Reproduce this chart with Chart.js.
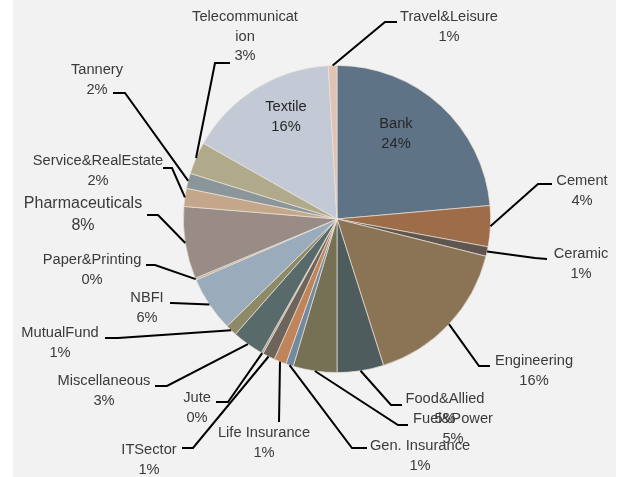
<!DOCTYPE html>
<html>
<head>
<meta charset="utf-8">
<script src="https://cdn.jsdelivr.net/npm/chart.js@4"></script>
<style>
  html, body { margin: 0; padding: 0; background: #ffffff; }
  #wrap { position: relative; width: 619px; height: 477px; }
  canvas { position: absolute; left: 0; top: 0; }
</style>
</head>
<body>
<div id="wrap"><canvas id="c" width="619" height="477"></canvas></div>
<script>
// ---- data ----
const categories = ["Bank", "Cement", "Ceramic", "Engineering", "Food&Allied", "Fuel&Power",
  "Gen. Insurance", "Life Insurance", "ITSector", "Jute", "Miscellaneous", "MutualFund",
  "NBFI", "Paper&Printing", "Pharmaceuticals", "Service&RealEstate", "Tannery",
  "Telecommunication", "Textile", "Travel&Leisure"];
const shareValues = [23.6, 4.3, 1.0, 16.2, 4.9, 4.6, 0.8, 1.3, 1.3, 0.2, 3.3, 1.2,
  5.8, 0.2, 7.6, 1.9, 1.6, 3.4, 15.9, 0.9];

// ---- styles ----
const sliceColors = ["#5f7386", "#9d6c48", "#5f5650", "#8b7355", "#4e5c5d", "#767055",
  "#7189a1", "#c0845a", "#6f6459", "#a89e8e", "#596a6b", "#8e8966",
  "#9aabbb", "#b8a99a", "#998c86", "#c4a68b", "#8a9699", "#b1a98b", "#c3cad5", "#e1c3b6"];

// label layout: [centerX, firstLineY, elbowX, elbowY, endX, endY, inside, fontSize, wrapAt]
const labelLayout = [
  [396, 124, null, null, null, null, true, 14.67, 0],
  [582, 181, 538, 184, 552, 184, false, 14.67, 0],
  [581, 254, 535, 258, 547, 259, false, 14.67, 0],
  [534, 361, 479, 366, 490, 366, false, 14.67, 0],
  [445, 399, 391, 405, 402, 405, false, 14.67, 0],
  [453, 419, 398, 425, 408, 425, false, 14.67, 0],
  [420, 446, 352, 448, 367, 448, false, 14.67, 0],
  [264, 433, 279, 422, 279, 422, false, 14.67, 0],
  [149, 450, 193, 448, 182, 448, false, 14.67, 0],
  [197, 398, 228, 402, 216, 402, false, 14.67, 0],
  [104, 381, 167, 386, 155, 386, false, 14.67, 0],
  [60, 333, 118, 338, 105, 338, false, 14.67, 0],
  [147, 298, 172, 303, 170, 303, false, 14.67, 0],
  [92, 260, 155, 265, 146, 265, false, 14.67, 0],
  [83, 204, 158, 215, 147, 215, false, 16, 0],
  [98, 161, 172, 168, 163, 168, false, 14.67, 0],
  [97, 70, 125, 93, 113, 93, false, 14.67, 0],
  [245, 17, 215, 63, 230, 63, false, 14.67, 14],
  [286, 107, null, null, null, null, true, 14.67, 0],
  [449, 17, 385, 22, 397, 22, false, 14.67, 0]
];

const total = shareValues.reduce((a, b) => a + b, 0);

const bgPlugin = {
  id: 'bg',
  beforeDraw(chart) {
    const ctx = chart.ctx;
    ctx.save();
    ctx.fillStyle = '#f2f2f2';
    ctx.fillRect(13, 0, 603, 477);
    ctx.restore();
  }
};

const labelPlugin = {
  id: 'sliceLabels',
  afterDatasetsDraw(chart) {
    const ctx = chart.ctx;
    const meta = chart.getDatasetMeta(0);
    ctx.save();
    meta.data.forEach((arc, i) => {
      const L = labelLayout[i];
      const p = arc.getProps(['x', 'y', 'startAngle', 'endAngle', 'outerRadius'], true);
      const mid = (p.startAngle + p.endAngle) / 2;
      const ax = p.x + Math.cos(mid) * p.outerRadius;
      const ay = p.y + Math.sin(mid) * p.outerRadius;
      if (!L[6]) {
        ctx.strokeStyle = '#000000';
        ctx.lineWidth = 2;
        ctx.lineJoin = 'miter';
        ctx.beginPath();
        ctx.moveTo(ax, ay);
        ctx.lineTo(L[2], L[3]);
        ctx.lineTo(L[4], L[5]);
        ctx.stroke();
      }
      const name = categories[i];
      let lines = [];
      if (L[8] > 0 && name.length > L[8]) {
        lines.push(name.slice(0, L[8]));
        lines.push(name.slice(L[8]));
      } else {
        lines.push(name);
      }
      lines.push(Math.round(shareValues[i] / total * 100) + '%');
      const fs = L[7];
      const lh = fs > 15 ? 22 : 19.7;
      ctx.font = fs + "px 'Liberation Sans', Arial, sans-serif";
      ctx.fillStyle = L[6] ? '#262626' : '#3a3a3a';
      ctx.textAlign = 'center';
      ctx.textBaseline = 'middle';
      lines.forEach((t, k) => ctx.fillText(t, L[0], L[1] + k * lh));
    });
    ctx.restore();
  }
};

new Chart(document.getElementById('c'), {
  type: 'pie',
  data: {
    labels: categories,
    datasets: [{
      data: shareValues,
      backgroundColor: sliceColors,
      borderColor: 'rgba(235,228,218,0.85)',
      borderWidth: 0.8
    }]
  },
  options: {
    responsive: false,
    animation: false,
    devicePixelRatio: 1,
    layout: { padding: { left: 183, right: 128, top: 65, bottom: 104 } },
    plugins: {
      legend: { display: false },
      tooltip: { enabled: false },
      title: { display: false }
    }
  },
  plugins: [bgPlugin, labelPlugin]
});
</script>
</body>
</html>
